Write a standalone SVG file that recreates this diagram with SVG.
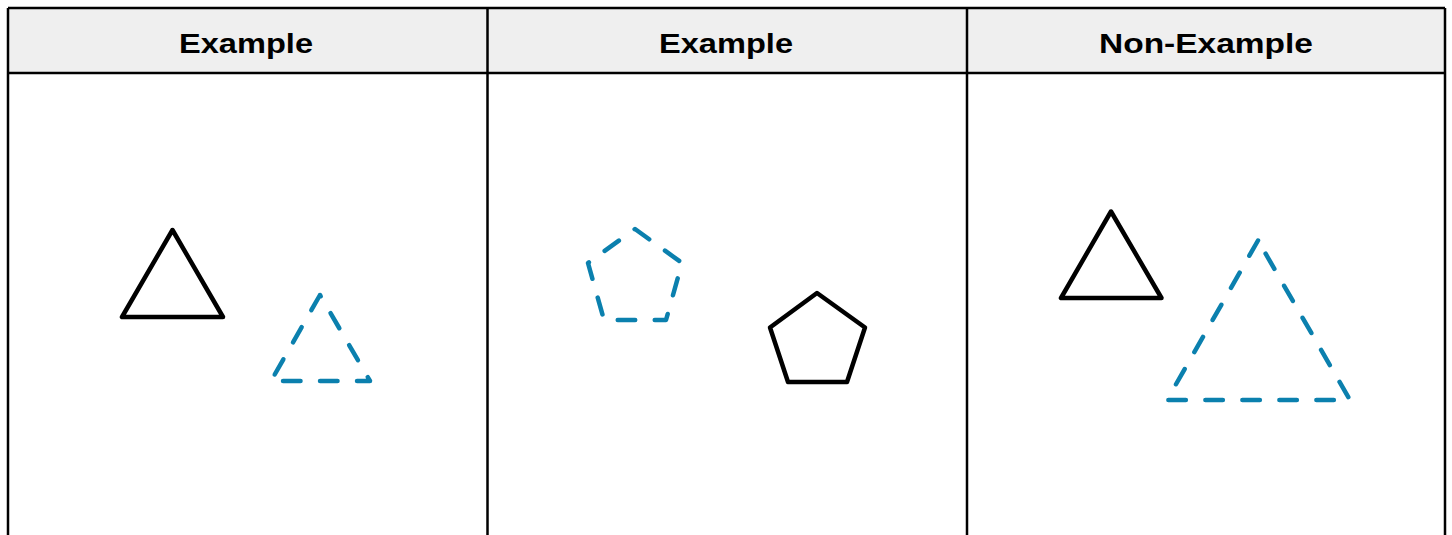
<svg xmlns="http://www.w3.org/2000/svg" width="1452" height="535" viewBox="0 0 1452 535">
<style>
.hdr{fill:#efefef;stroke:none}
.grid{stroke:#000;stroke-width:2.5;fill:none}
.t{font-family:"Liberation Sans",Arial,sans-serif;font-weight:bold;font-size:28px;fill:#000;text-anchor:middle}
.solid{fill:none;stroke:#000;stroke-width:4.5;stroke-linejoin:round;stroke-linecap:round}
.dash{fill:none;stroke:#0b80ae;stroke-width:4.5;stroke-linejoin:round;stroke-linecap:round;stroke-dasharray:17.5 19.5}
</style>
<rect width="1452" height="535" fill="#fff"/>
<g id="table">
<rect class="hdr" x="8" y="8" width="1437" height="65"/>
<path class="grid" d="M8 8H1445M8 73H1445M8 8V535M1445 8V535M487.5 8V535M967 8V535"/>
<text class="t" x="246" y="53" textLength="134" lengthAdjust="spacingAndGlyphs">Example</text>
<text class="t" x="726" y="53" textLength="134" lengthAdjust="spacingAndGlyphs">Example</text>
<text class="t" x="1206" y="53" textLength="214" lengthAdjust="spacingAndGlyphs">Non-Example</text>
</g>
<g id="col1">
<polygon class="solid" points="172.5,230 122,317 223,317"/>
<polygon class="dash" points="320,295 271,381 370,381"/>
</g>
<g id="col2">
<polygon class="dash" points="635,229 682,263 666,320 604,320 588,263"/>
<polygon class="solid" points="817,293 865,327.5 847,382 788,382 770,327.5"/>
</g>
<g id="col3">
<polygon class="solid" points="1111,211.5 1061,298 1161.5,298"/>
<polygon class="dash" points="1258,240.5 1167,400 1350,400"/>
</g>
</svg>
